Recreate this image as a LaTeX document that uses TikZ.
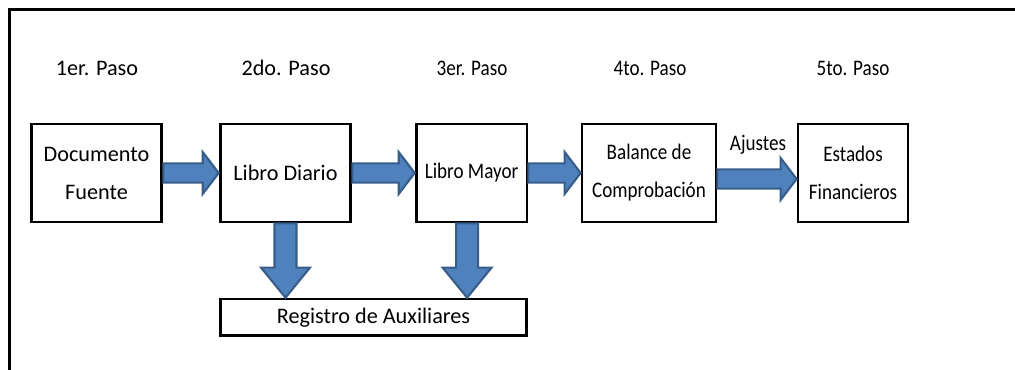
\documentclass[tikz,border=0pt]{standalone}
\usepackage{fontspec}
\setmainfont{Carlito}
\newfontfamily\angosta[FakeStretch=0.86]{Carlito}
\usepackage{tikz}
\usetikzlibrary{calc}
\definecolor{flechafill}{HTML}{4F81BD}
\definecolor{flechaborde}{HTML}{385D8A}
\tikzset{
  texto/.style = {font=\fontsize{15.8}{27}\selectfont, align=center, inner sep=0pt},
  angosto/.style = {font=\angosta\fontsize{15.8}{27}\selectfont},
  caja/.style = {texto, rectangle, draw=black, line width=2pt, minimum height=2.45cm},
  paso/.style = {texto},
  marco/.style = {line width=2.1pt, line join=miter},
  bloque/.style = {fill=flechafill, draw=flechaborde, line width=1.5pt, line join=miter},
  flecha_h/.style = {bloque, to path={
    ($(\tikztostart)+(0,#1+.24)$) -- ($(\tikztotarget)+(-.4,#1+.24)$) -- ($(\tikztotarget)+(-.4,#1+.525)$)
    -- ($(\tikztotarget)+(0,#1)$) -- ($(\tikztotarget)+(-.4,#1-.525)$) -- ($(\tikztotarget)+(-.4,#1-.24)$)
    -- ($(\tikztostart)+(0,#1-.24)$) -- cycle}},
  flecha_h/.default = 0,
  flecha_v/.style = {bloque, to path={
    ($(\tikztostart)+(#1-.275,0)$) -- ($(\tikztotarget)+(#1-.275,.75)$) -- ($(\tikztotarget)+(#1-.61,.75)$)
    -- ($(\tikztotarget)+(#1,0)$) -- ($(\tikztotarget)+(#1+.61,.75)$) -- ($(\tikztotarget)+(#1+.275,.75)$)
    -- ($(\tikztostart)+(#1+.275,0)$) -- cycle}},
  flecha_v/.default = 0
}
\begin{document}
\begin{tikzpicture}
  \useasboundingbox (0,0) rectangle (25.375,9.25);
  \draw[marco] (0.2375,0) -- (0.2375,9.0125) -- (25.375,9.0125);

  % pasos
  \node[paso] (p1) at (2.425,7.55) {1er. Paso};
  \node[paso] (p2) at (7.15,7.55) {2do. Paso};
  \node[paso, angosto] (p3) at (11.8,7.55) {3er. Paso};
  \node[paso, angosto] (p4) at (16.25,7.55) {4to. Paso};
  \node[paso, angosto] (p5) at (21.325,7.55) {5to. Paso};

  % cajas
  \node[caja, minimum width=3.27cm] (doc) at (2.4125,4.925) {Documento\\Fuente};
  \node[caja, minimum width=3.27cm] (diario) at (7.1375,4.925) {Libro Diario};
  \node[caja, angosto, minimum width=2.77cm] (mayor) at (11.7875,4.925) {Libro Mayor};
  \node[caja, angosto, minimum width=3.35cm] (balance) at (16.225,4.925) {Balance de\\Comprobaci\'on};
  \node[caja, angosto, minimum width=2.75cm] (estados) at (21.325,4.925) {Estados\\Financieros};
  \node[caja, minimum width=7.65cm, minimum height=0.92cm] (registro) at (9.3375,1.3125) {Registro de Auxiliares};

  % flechas
  \draw[flecha_h] (doc.east) to (diario.west);
  \draw[flecha_h] (diario.east) to (mayor.west);
  \draw[flecha_h] (mayor.east) to (balance.west);
  \draw[flecha_h=-.15] (balance.east) to (estados.west);
  \node[paso, angosto] (ajustes) at (18.95,5.625) {Ajustes};
  \draw[flecha_v] (diario.south) to (diario.south |- registro.north);
  \draw[flecha_v=-.11] (mayor.south) to (mayor.south |- registro.north);
\end{tikzpicture}
\end{document}
